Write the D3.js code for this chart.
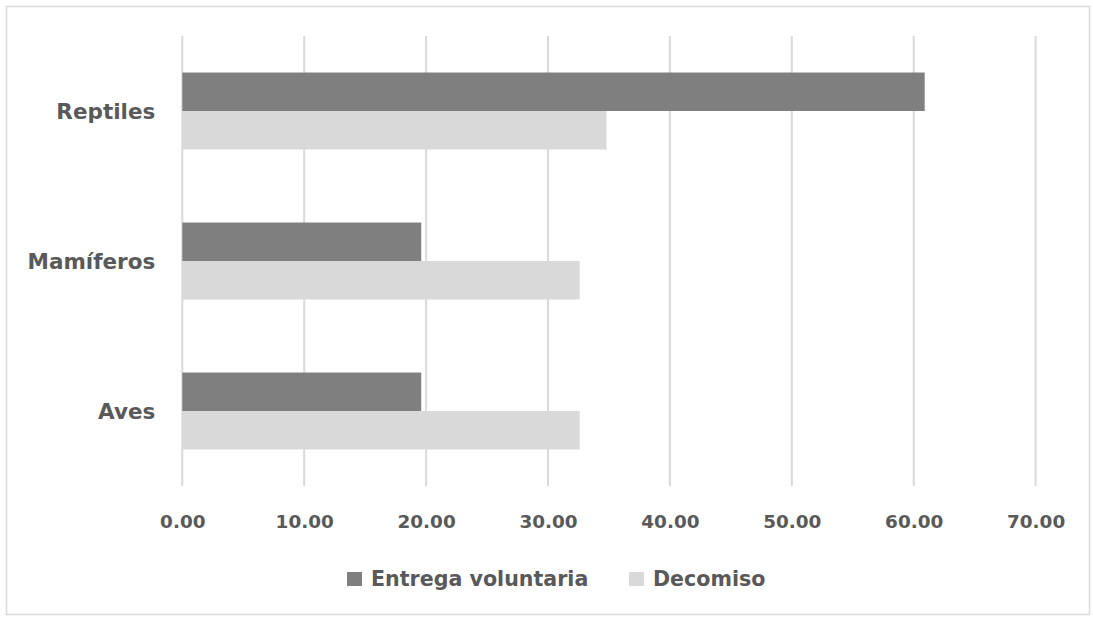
<!DOCTYPE html>
<html>
<head>
<meta charset="utf-8">
<script src="https://cdn.jsdelivr.net/npm/d3@7"></script>
<style>
  html, body { margin: 0; padding: 0; background: #fff; }
  svg { display: block; }
  text { font-family: "DejaVu Sans", sans-serif; font-weight: bold; fill: #595959; }
</style>
</head>
<body>
<svg id="chart" width="1093" height="619"></svg>
<script>
// Categories (top to bottom) and the two series
const categories = ["Reptiles", "Mamíferos", "Aves"];
const seriesNames = ["Entrega voluntaria", "Decomiso"];
const entregaVoluntaria = [60.9, 19.6, 19.6];
const decomiso = [34.8, 32.6, 32.6];
const tickValues = [0, 10, 20, 30, 40, 50, 60, 70];

const colors = ["#7f7f7f", "#d9d9d9"];
const seriesValues = [entregaVoluntaria, decomiso];

const svg = d3.select("#chart");

// Outer chart frame
svg.append("rect")
  .attr("x", 6.5).attr("y", 6.5)
  .attr("width", 1083).attr("height", 608)
  .attr("fill", "#fff")
  .attr("stroke", "#d9d9d9")
  .attr("stroke-width", 1.5);

const plot = { left: 182.3, right: 1035.6, top: 36, bottom: 486 };

const x = d3.scaleLinear().domain([0, 70]).range([plot.left, plot.right]);
const y = d3.scaleBand().domain(categories)
  .range([plot.top, plot.bottom])
  .paddingInner(0.487).paddingOuter(0.2435);
const ySub = d3.scaleBand().domain(seriesNames).range([0, y.bandwidth()]);

// Vertical gridlines
svg.append("g")
  .selectAll("line")
  .data(tickValues)
  .join("line")
  .attr("x1", d => x(d)).attr("x2", d => x(d))
  .attr("y1", plot.top).attr("y2", plot.bottom)
  .attr("stroke", "#d9d9d9")
  .attr("stroke-width", 2);

// Bars
const groups = svg.append("g")
  .selectAll("g")
  .data(categories)
  .join("g")
  .attr("transform", d => `translate(0,${y(d)})`);

groups.selectAll("rect")
  .data((c, i) => seriesNames.map((s, j) => ({ s, v: seriesValues[j][i], j })))
  .join("rect")
  .attr("x", x(0))
  .attr("y", d => ySub(d.s))
  .attr("width", d => x(d.v) - x(0))
  .attr("height", ySub.bandwidth())
  .attr("fill", d => colors[d.j]);

// Category labels
const yAxis = d3.axisLeft(y).tickSize(0).tickPadding(0);
const yg = svg.append("g")
  .attr("transform", `translate(${plot.left - 27},0)`)
  .call(yAxis);
yg.select(".domain").remove();
yg.selectAll("text")
  .attr("font-size", 21.5)
  .attr("fill", "#595959")
  .attr("font-family", "DejaVu Sans")
  .attr("font-weight", "bold")
  .attr("dy", "0.35em");

// Value axis labels
const xAxis = d3.axisBottom(x).tickValues(tickValues)
  .tickFormat(d3.format(".2f")).tickSize(0).tickPadding(0);
const xg = svg.append("g")
  .attr("transform", `translate(0,522)`)
  .call(xAxis);
xg.select(".domain").remove();
xg.selectAll("text")
  .attr("font-size", 18.4)
  .attr("fill", "#595959")
  .attr("font-family", "DejaVu Sans")
  .attr("font-weight", "bold")
  .attr("dy", "0.35em");

// Legend
const legendItems = [
  { name: seriesNames[0], color: colors[0], x: 347 },
  { name: seriesNames[1], color: colors[1], x: 629 }
];
const lg = svg.append("g").selectAll("g")
  .data(legendItems)
  .join("g")
  .attr("transform", d => `translate(${d.x},579)`);
lg.append("rect")
  .attr("x", 0).attr("y", -7)
  .attr("width", 15).attr("height", 14)
  .attr("fill", d => d.color);
lg.append("text")
  .attr("x", 24)
  .attr("dy", "0.35em")
  .attr("font-size", 20.6)
  .text(d => d.name);
</script>
</body>
</html>
